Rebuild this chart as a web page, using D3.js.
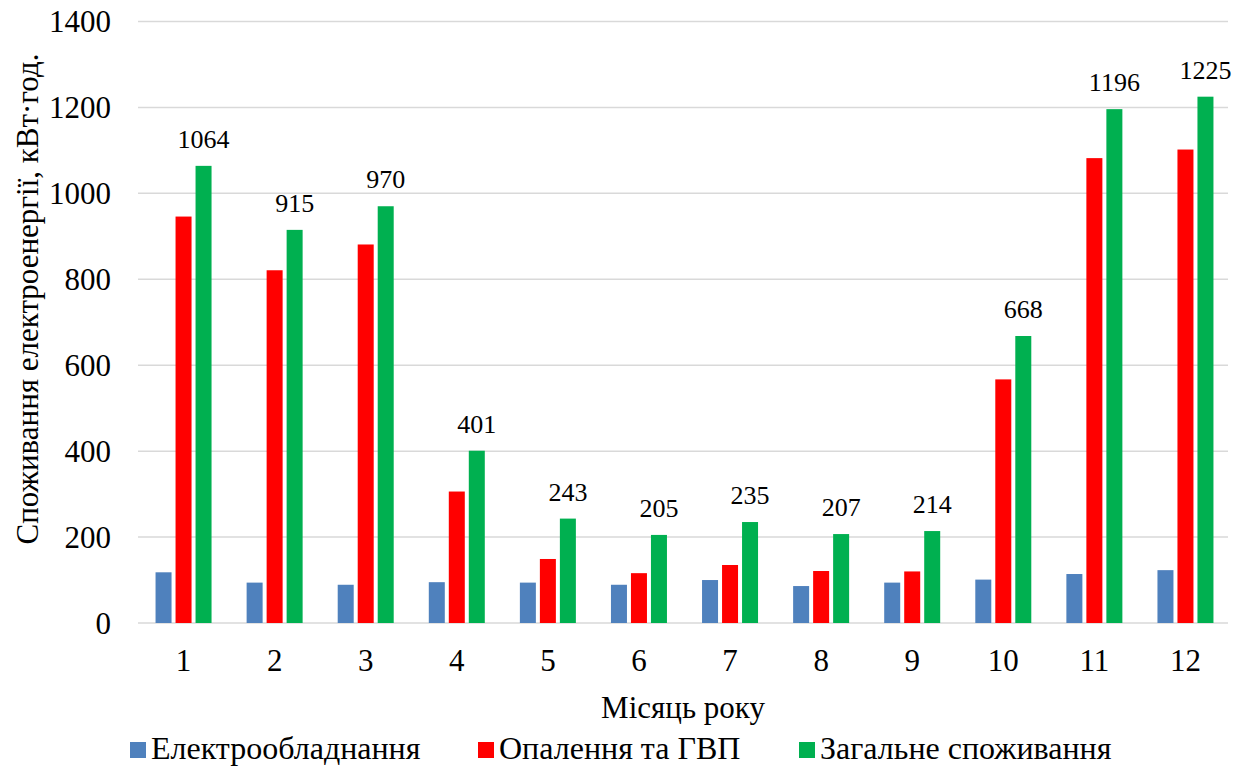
<!DOCTYPE html>
<html>
<head>
<meta charset="utf-8">
<script src="https://cdn.jsdelivr.net/npm/d3@7"></script>
<style>
  html, body { margin: 0; padding: 0; background: #fff; }
  svg { display: block; }
</style>
</head>
<body>
<svg id="chart" width="1242" height="769"></svg>
<script>
// Monthly electricity consumption, kWh
const months = ["1", "2", "3", "4", "5", "6", "7", "8", "9", "10", "11", "12"];
const equipment = [118, 94, 89, 95, 94, 89, 100, 86, 94, 101, 114, 123];
const heating = [946, 821, 881, 306, 149, 116, 135, 121, 120, 567, 1082, 1102];
const total = [1064, 915, 970, 401, 243, 205, 235, 207, 214, 668, 1196, 1225];
const seriesNames = ["Електрообладнання", "Опалення та ГВП", "Загальне споживання"];
const yTicks = [0, 200, 400, 600, 800, 1000, 1200, 1400];

const colors = ["#4f81bd", "#ff0000", "#00b050"];
const seriesValues = [equipment, heating, total];
const FONT = "'Liberation Serif'";

const svg = d3.select("#chart");
const plot = { left: 138, right: 1231, top: 21.5, bottom: 623 };

const x0 = d3.scaleBand().domain(months).range([plot.left, plot.right]);
const x1 = d3.scaleBand().domain(d3.range(3)).range([-28, 28]).paddingInner(0.2).paddingOuter(0);
const y = d3.scaleLinear().domain([0, 1400]).range([plot.bottom, plot.top]);

// Gridlines
svg.append("g")
  .selectAll("line")
  .data(yTicks)
  .join("line")
  .attr("x1", plot.left)
  .attr("x2", 1228)
  .attr("y1", d => y(d))
  .attr("y2", d => y(d))
  .attr("stroke", "#d9d9d9")
  .attr("stroke-width", 1.5);

// Y tick labels
svg.append("g")
  .selectAll("text")
  .data(yTicks)
  .join("text")
  .attr("x", 111)
  .attr("y", d => y(d))
  .attr("dy", "0.35em")
  .attr("text-anchor", "end")
  .style("font-family", FONT)
  .attr("font-size", 31)
  .attr("fill", "#000")
  .text(d => d);

// Bars
const groups = svg.append("g")
  .selectAll("g")
  .data(months)
  .join("g")
  .attr("transform", d => `translate(${x0(d) + x0.bandwidth() / 2},0)`);

groups.selectAll("rect")
  .data((m, i) => seriesValues.map((vals, s) => ({ s, v: vals[i] })))
  .join("rect")
  .attr("x", d => x1(d.s))
  .attr("width", x1.bandwidth())
  .attr("y", d => y(d.v))
  .attr("height", d => y(0) - y(d.v))
  .attr("fill", d => colors[d.s]);

// Value labels above total bars
groups.append("text")
  .attr("x", x1(2) + x1.bandwidth() / 2)
  .attr("y", (m, i) => y(total[i]) - 18)
  .attr("text-anchor", "middle")
  .style("font-family", FONT)
  .attr("font-size", 26)
  .attr("fill", "#000")
  .text((m, i) => total[i]);

// Category labels
svg.append("g")
  .selectAll("text")
  .data(months)
  .join("text")
  .attr("x", d => x0(d) + x0.bandwidth() / 2)
  .attr("y", 671)
  .attr("text-anchor", "middle")
  .style("font-family", FONT)
  .attr("font-size", 31)
  .attr("fill", "#000")
  .text(d => d);

// Axis titles
svg.append("text")
  .attr("x", 683)
  .attr("y", 718)
  .attr("text-anchor", "middle")
  .style("font-family", FONT)
  .attr("font-size", 31)
  .attr("fill", "#000")
  .text("Місяць року");

svg.append("text")
  .attr("transform", "translate(38,299) rotate(-90)")
  .attr("text-anchor", "middle")
  .style("font-family", FONT)
  .attr("font-size", 31)
  .attr("fill", "#000")
  .text("Споживання електроенергії, кВт·год.");

// Legend
const legendX = [130, 478, 799];
const legend = svg.append("g")
  .selectAll("g")
  .data(seriesNames)
  .join("g")
  .attr("transform", (d, i) => `translate(${legendX[i]},742)`);

legend.append("rect")
  .attr("width", 16)
  .attr("height", 16)
  .attr("fill", (d, i) => colors[i]);

legend.append("text")
  .attr("x", 21)
  .attr("y", 17)
  .style("font-family", FONT)
  .attr("font-size", 32)
  .attr("fill", "#000")
  .text(d => d);
</script>
</body>
</html>
